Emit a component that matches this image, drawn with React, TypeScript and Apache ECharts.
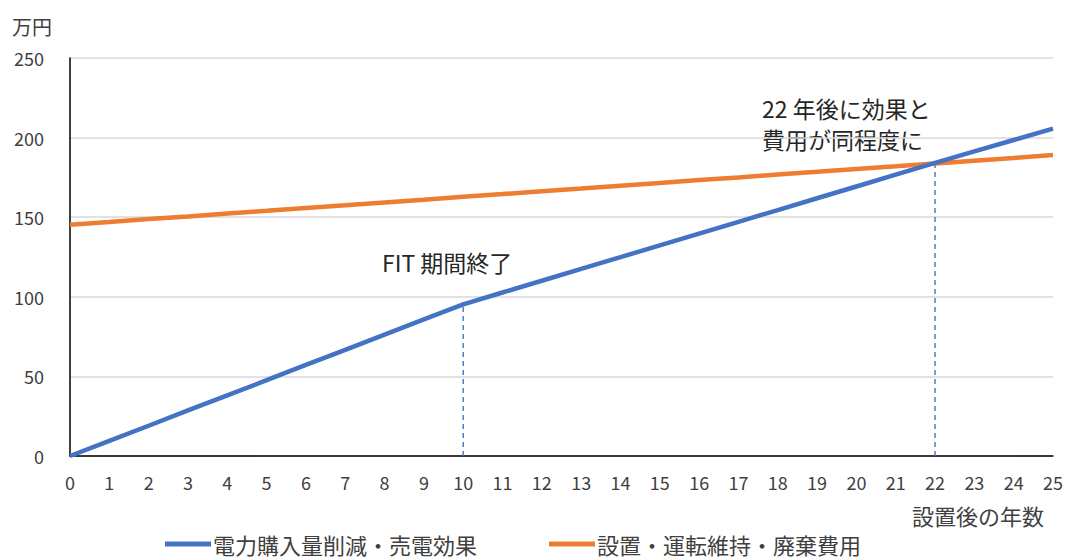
import React, { useEffect, useRef } from "react";
import * as echarts from "echarts";

const years = ["0","1","2","3","4","5","6","7","8","9","10","11","12","13","14","15","16","17","18","19","20","21","22","23","24","25"];
const benefit = [0, 9.5, 19.0, 28.6, 38.1, 47.6, 57.2, 66.7, 76.2, 85.8, 95.3, 102.7, 110.1, 117.5, 124.9, 132.3, 139.7, 147.1, 154.5, 161.9, 169.3, 176.7, 184.1, 191.3, 198.5, 205.6];
const cost = [145.3, 147.0, 148.8, 150.5, 152.3, 154.0, 155.8, 157.5, 159.3, 161.0, 162.8, 164.5, 166.3, 168.0, 169.8, 171.5, 173.3, 175.0, 176.8, 178.5, 180.3, 182.0, 183.8, 185.5, 187.2, 189.0];
const seriesNames = ["電力購入量削減・売電効果", "設置・運転維持・廃棄費用"];
const markYears = ["10", "22"];

const FONT = "'Noto Sans CJK JP', 'Noto Sans', sans-serif";
const TXT = "#404040";
const BLUE = "#4472C4";
const ORANGE = "#ED7D31";

export default function App() {
  const ref = useRef<HTMLDivElement>(null);
  useEffect(() => {
    document.body.style.margin = "0";
    const chart = echarts.init(ref.current!, null, { renderer: "svg" });
    const dashSeries = markYears.map((y) => {
      const i = years.indexOf(y);
      return {
        type: "line",
        data: [[y, 0], [y, benefit[i]]],
        showSymbol: false,
        symbol: "none",
        silent: true,
        lineStyle: { color: BLUE, type: [5, 4], width: 1.4 },
        z: 1,
      };
    });
    chart.setOption({
      animation: false,
      textStyle: { fontFamily: FONT, color: TXT },
      grid: { left: 70, right: 13, top: 58, bottom: 104 },
      legend: {
        left: 160,
        bottom: 0,
        itemWidth: 46,
        itemHeight: 5,
        itemGap: 72,
        icon: "rect",
        textStyle: { fontFamily: FONT, fontSize: 22, color: TXT, padding: [0, 0, 0, -3] },
        data: seriesNames,
      },
      xAxis: {
        type: "category",
        data: years,
        boundaryGap: false,
        axisLine: { lineStyle: { color: "#000", width: 1.5 } },
        axisTick: { show: false },
        axisLabel: { fontFamily: FONT, fontSize: 18, color: TXT, margin: 17, interval: 0 },
        splitLine: { show: false },
      },
      yAxis: {
        type: "value",
        min: 0,
        max: 250,
        interval: 50,
        name: "万円",
        nameLocation: "end",
        nameGap: 22,
        nameTextStyle: { fontFamily: FONT, fontSize: 20, color: TXT, align: "right", padding: [0, 18, 0, 0] },
        axisLine: { show: true, lineStyle: { color: "#000", width: 1.5 } },
        axisTick: { show: false },
        axisLabel: { fontFamily: FONT, fontSize: 18, color: TXT, margin: 26 },
        splitLine: { lineStyle: { color: "#d9d9d9", width: 1.5 } },
      },
      series: [
        {
          name: seriesNames[0],
          type: "line",
          data: benefit,
          showSymbol: false,
          symbol: "none",
          lineStyle: { color: BLUE, width: 4.5 },
          itemStyle: { color: BLUE },
          z: 3,
        },
        {
          name: seriesNames[1],
          type: "line",
          data: cost,
          showSymbol: false,
          symbol: "none",
          lineStyle: { color: ORANGE, width: 4.5 },
          itemStyle: { color: ORANGE },
          z: 2,
        },
        ...dashSeries,
      ],
      graphic: [
        { type: "text", left: 382, top: 250, style: { text: "FIT 期間終了", font: `23px ${FONT}`, fill: "#262626" } },
        { type: "text", left: 762, top: 92, style: { text: "22 年後に効果と\n費用が同程度に", font: `23px ${FONT}`, fill: "#262626", lineHeight: 31 } },
        { type: "text", right: 22, top: 504, style: { text: "設置後の年数", font: `22px ${FONT}`, fill: TXT } },
      ],
    });
    return () => chart.dispose();
  }, []);
  return <div ref={ref} style={{ width: 1066, height: 560 }} />;
}
